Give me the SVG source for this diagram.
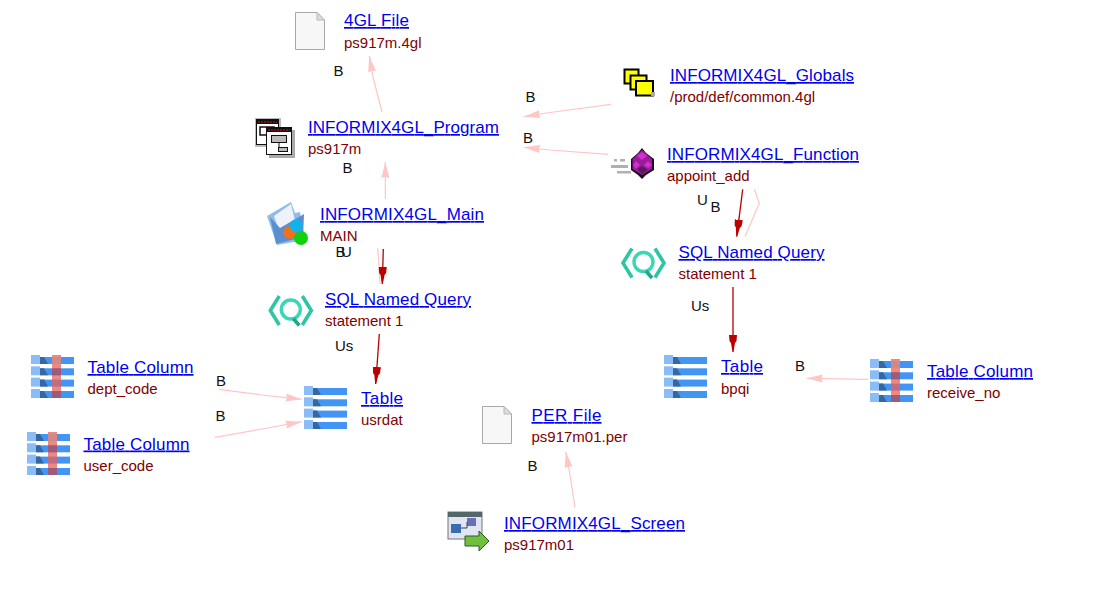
<svg xmlns="http://www.w3.org/2000/svg" xmlns:xlink="http://www.w3.org/1999/xlink" width="1113" height="598" viewBox="0 0 1113 598">
<style>
text{font-family:"Liberation Sans",Arial,sans-serif}
.t{font-size:17px;fill:#0000f0;text-decoration:underline}
.s{font-size:15px;fill:#800000}
.l{font-size:15px;fill:#111}
.p{fill:none;stroke:#ffc6c6;stroke-width:1.2;marker-end:url(#ap)}
.q{fill:none;stroke:#ffc6c6;stroke-width:1.2}
.r{fill:none;stroke:#bb0000;stroke-width:1.3;marker-end:url(#ar)}
</style>
<defs>
<marker id="ap" markerUnits="userSpaceOnUse" markerWidth="18" markerHeight="10" refX="16" refY="5" orient="auto"><path d="M0,1L16,5L0,9L1,5Z" fill="#ffc6c6"/></marker>
<marker id="ar" markerUnits="userSpaceOnUse" markerWidth="18" markerHeight="10" refX="17" refY="5" orient="auto"><path d="M0,1L6,1.5L8,3L14,4L17,5L14,6L8,7L6,8.5L0,9Z" fill="#bb0000"/></marker>
<g id="rows">
<rect x="0" y="0" width="9" height="9" fill="#8abcf8"/><rect x="9" y="2" width="34" height="7" fill="#4395f5"/><path d="M9,2h4l4,7h-8z" fill="#36689f"/>
<rect x="0" y="11.3" width="9" height="9" fill="#8abcf8"/><rect x="9" y="13.3" width="34" height="7" fill="#4395f5"/><path d="M9,13.3h4l4,7h-8z" fill="#36689f"/>
<rect x="0" y="22.6" width="9" height="9" fill="#8abcf8"/><rect x="9" y="24.6" width="34" height="7" fill="#4395f5"/><path d="M9,24.6h4l4,7h-8z" fill="#36689f"/>
<rect x="0" y="34" width="9" height="9" fill="#8abcf8"/><rect x="9" y="36" width="34" height="7" fill="#4395f5"/><path d="M9,36h4l4,7h-8z" fill="#36689f"/>
</g>
<g id="col">
<use xlink:href="#rows" href="#rows"/>
<rect x="21" y="0" width="9" height="43" fill="#e8605a" fill-opacity=".75"/>
<g fill="#f0c090" fill-opacity=".35"><rect x="21" y="2" width="9" height="7"/></g>
<g fill="#7a4a70" fill-opacity=".5"><rect x="21" y="13.3" width="9" height="7"/><rect x="21" y="36" width="9" height="7"/></g>
</g>
<g id="sql" fill="none" stroke="#2cc6a4">
<path d="M11,1.5L2,16L11,30.5M34,1.5L43,16L34,30.5" stroke-width="3.6"/>
<circle cx="22.5" cy="15" r="9.5" stroke-width="3.4" stroke="#3ad6b6"/>
<path d="M25,24L31,31" stroke-width="3.6" stroke="#1fa88c"/>
</g>
<g id="file">
<path d="M.5,.5H22L29.5,8V37.5H.5Z" fill="#f7f7f7" stroke="#a8a8a8"/>
<path d="M22,.5V8H29.5Z" fill="#dcdcdc" stroke="#b8b8b8"/>
</g>
</defs>
<rect width="1113" height="598" fill="#fff"/>
<g id="connectors">
<polyline class="p" points="382,112 373,77 369.3,56"/>
<line class="p" x1="385.4" y1="199" x2="385.3" y2="162"/>
<polyline class="p" points="611,104.3 550,112.5 524,116.7"/>
<polyline class="p" points="608.3,154.3 550,150 524,147.3"/>
<line class="r" x1="742.7" y1="189.3" x2="736.7" y2="236.7"/>
<polyline class="q" points="745,236.7 759.3,203.3 754.3,189.3"/>
<polyline class="q" points="377.7,248.3 380,284"/>
<line class="r" x1="383.3" y1="249" x2="382.3" y2="284"/>
<line class="r" x1="379.3" y1="334" x2="375.7" y2="384"/>
<line class="r" x1="733" y1="287" x2="733" y2="352"/>
<polyline class="p" points="219,389.3 262,395 301.7,399.3"/>
<polyline class="p" points="215,437.3 262,429 301.7,421.7"/>
<polyline class="p" points="868.3,379.3 840,378.8 806.7,378.3"/>
<polyline class="p" points="575,507.7 570,475 565.7,451.7"/>
<text class="l" x="333.5" y="76">B</text>
<text class="l" x="342.5" y="172.5">B</text>
<text class="l" x="335.5" y="257">B</text>
<text class="l" x="341" y="257">U</text>
<text class="l" x="525.5" y="101.5">B</text>
<text class="l" x="523" y="142.5">B</text>
<text class="l" x="697" y="205">U</text>
<text class="l" x="710.5" y="212">B</text>
<text class="l" x="691" y="311">Us</text>
<text class="l" x="335" y="351">Us</text>
<text class="l" x="216" y="385.5">B</text>
<text class="l" x="215.5" y="421">B</text>
<text class="l" x="795" y="370.5">B</text>
<text class="l" x="527.5" y="470.5">B</text>
</g>
<g id="node-4gl-file"><use xlink:href="#file" href="#file" x="295" y="12"/><text class="t" x="344" y="26" textLength="65">4GL File</text><text class="s" x="344" y="47.5">ps917m.4gl</text></g>
<g id="node-program">
<rect x="255" y="118" width="26" height="29" fill="#bbb"/><rect x="256.5" y="119.5" width="22" height="25" fill="#fff" stroke="#111"/><rect x="257" y="120" width="21" height="4" fill="#111"/><path d="M258,122H277" stroke="#e01010" stroke-dasharray="2 1"/><rect x="260" y="127" width="14" height="8" fill="#fff" stroke="#111" stroke-width="1.5"/>
<rect x="269" y="130" width="26" height="28" fill="#aaa"/><rect x="266.5" y="127.5" width="25" height="27" fill="#fff" stroke="#111"/><rect x="267" y="128" width="24" height="4" fill="#111"/><path d="M268,130H290" stroke="#e01010" stroke-dasharray="2 1"/><rect x="271.5" y="135.5" width="15" height="7" fill="#bbb" stroke="#111"/><rect x="278.5" y="147.5" width="9" height="4" fill="#bbb" stroke="#111"/><path d="M279,142.5V147.5" stroke="#111"/>
<text class="t" x="308" y="133" textLength="191">INFORMIX4GL_Program</text><text class="s" x="308" y="154">ps917m</text></g>
<g id="node-main">
<path d="M267,216L291,202L295,213L300,212L305,240L277,245Z" fill="#8fbdea"/><path d="M274,216L291,204L296,225L281,236Z" fill="#eef3fb"/><path d="M270,217L276,244L303,237L304,214L280,228Z" fill="#5a8ed0"/>
<circle cx="289.5" cy="232.5" r="6.5" fill="#f0701c"/><circle cx="296.3" cy="225.7" r="6.5" fill="#10b4ea"/><circle cx="301" cy="238" r="7" fill="#10d010"/>
<text class="t" x="320" y="220" textLength="164">INFORMIX4GL_Main</text><text class="s" x="320" y="241">MAIN</text></g>
<g id="node-globals">
<g fill="#ffff00" stroke="#000" stroke-width="2"><rect x="624.5" y="69.5" width="14" height="14"/><rect x="630.5" y="75.5" width="16" height="14"/><rect x="636" y="81" width="17" height="14.5"/></g><rect x="651" y="92" width="4" height="4" fill="#aaa"/>
<text class="t" x="670" y="81" textLength="184">INFORMIX4GL_Globals</text><text class="s" x="670" y="102">/prod/def/common.4gl</text></g>
<g id="node-function">
<g fill="#b0b0b0"><rect x="614" y="159" width="3" height="2.5"/><rect x="620" y="159" width="5" height="2.5"/><rect x="611" y="165" width="17" height="3"/><rect x="617" y="171" width="14" height="2.5"/></g>
<path d="M642,148L646,153L654,159V170L646,175L642,179L638,175L631,170V159L638,153Z" fill="#1c0c1c"/><path d="M642,150L652,159V169L642,175L632.5,169V159Z" fill="#9a1c9a"/><path d="M642,152L647,156L642,160L637,156ZM636,161L640,165L636,169L633,165ZM648,161L652,165L648,168L644,165Z" fill="#d030d0"/><path d="M637,169L642,174L648,170L642,166Z" fill="#5a1a5a"/>
<text class="t" x="667" y="160" textLength="192">INFORMIX4GL_Function</text><text class="s" x="667" y="181">appoint_add</text></g>
<g id="node-sql-right"><use xlink:href="#sql" href="#sql" x="621" y="247"/><text class="t" x="678.5" y="258" textLength="146">SQL Named Query</text><text class="s" x="678.5" y="279">statement 1</text></g>
<g id="node-sql-left"><use xlink:href="#sql" href="#sql" x="268.3" y="294.5"/><text class="t" x="325" y="305" textLength="146">SQL Named Query</text><text class="s" x="325" y="326">statement 1</text></g>
<g id="node-table-usrdat"><use xlink:href="#rows" href="#rows" x="304" y="386"/><text class="t" x="361" y="404" textLength="42">Table</text><text class="s" x="361" y="424.5">usrdat</text></g>
<g id="node-table-bpqi"><use xlink:href="#rows" href="#rows" x="664" y="355"/><text class="t" x="721" y="372" textLength="42">Table</text><text class="s" x="721" y="393.5">bpqi</text></g>
<g id="node-col-dept"><use xlink:href="#col" href="#col" x="31" y="355"/><text class="t" x="87.5" y="373" textLength="106">Table Column</text><text class="s" x="87.5" y="394">dept_code</text></g>
<g id="node-col-user"><use xlink:href="#col" href="#col" x="27" y="432"/><text class="t" x="83.5" y="449.5" textLength="106">Table Column</text><text class="s" x="83.5" y="470.5">user_code</text></g>
<g id="node-col-receive"><use xlink:href="#col" href="#col" x="870" y="359"/><text class="t" x="927" y="377" textLength="106">Table Column</text><text class="s" x="927" y="398">receive_no</text></g>
<g id="node-per-file"><use xlink:href="#file" href="#file" x="482" y="406"/><text class="t" x="531.5" y="421" textLength="70">PER File</text><text class="s" x="531.5" y="442">ps917m01.per</text></g>
<g id="node-screen">
<rect x="448" y="512" width="34" height="27" fill="#dfe6f2" stroke="#777"/><rect x="448" y="512" width="34" height="5" fill="#566"/><rect x="451" y="524" width="10" height="9" fill="#3a6db0"/><rect x="467" y="518" width="9" height="8" fill="#6a70b8"/><path d="M461,528H467V522" fill="none" stroke="#345"/>
<path d="M465,536H479V531L489,541L479,551V546H465Z" fill="#70c040" stroke="#2a5a20"/>
<text class="t" x="504" y="529" textLength="181">INFORMIX4GL_Screen</text><text class="s" x="504" y="550">ps917m01</text></g>
</svg>
